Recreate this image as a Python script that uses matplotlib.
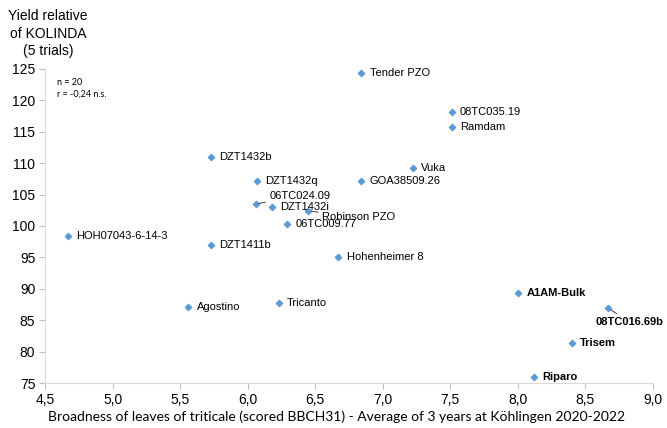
import matplotlib
matplotlib.use("Agg")
import matplotlib.pyplot as plt

# broadness of leaves (x) vs yield relative to KOLINDA (y)
names = ["Tender PZO", "08TC035.19", "Ramdam", "Vuka", "GOA38509.26",
         "DZT1432b", "DZT1432q", "06TC024.09", "DZT1432i", "Robinson PZO",
         "06TC009.77", "HOH07043-6-14-3", "DZT1411b", "Hohenheimer 8",
         "A1AM-Bulk", "08TC016.69b", "Agostino", "Tricanto", "Trisem", "Riparo"]
broadness = [6.84, 7.51, 7.51, 7.22, 6.84,
             5.73, 6.07, 6.06, 6.18, 6.45,
             6.29, 4.67, 5.73, 6.67,
             8.00, 8.67, 5.56, 6.23, 8.40, 8.12]
yield_rel = [124.4, 118.2, 115.8, 109.2, 107.2,
             111.0, 107.2, 103.5, 103.0, 102.4,
             100.3, 98.4, 97.0, 95.1,
             89.4, 86.9, 87.1, 87.7, 81.4, 76.0]
bold_names = ["A1AM-Bulk", "08TC016.69b", "Trisem", "Riparo"]

# labels with leader lines: (dx, dy) offset in points
leader = {"06TC024.09": (10, 6), "Robinson PZO": (10, -4.5), "08TC016.69b": (15.5, -10)}

fig = plt.figure(figsize=(6.67, 4.28), dpi=100)
ax = fig.add_axes([0.0675, 0.105, 0.9115, 0.734])

ax.scatter(broadness, yield_rel, marker="D", s=10, color="#5B9BD5", zorder=3)

for name, x, y in zip(names, broadness, yield_rel):
    weight = "bold" if name in bold_names else "normal"
    if name in leader:
        dx, dy = leader[name]
        ha = "center" if name == "08TC016.69b" else "left"
        ax.annotate(name, (x, y), xytext=(dx, dy), textcoords="offset points",
                    fontsize=8, fontweight=weight, family="Liberation Sans",
                    ha=ha, va="center", color="black",
                    arrowprops=dict(arrowstyle="-", color="#404040", lw=0.7,
                                    shrinkA=1, shrinkB=2))
    else:
        ax.annotate(name, (x, y), xytext=(6, 0), textcoords="offset points",
                    fontsize=8, fontweight=weight, family="Liberation Sans",
                    ha="left", va="center", color="black")

ax.set_xlim(4.5, 9.0)
ax.set_ylim(75, 125)
xticks = [4.5, 5.0, 5.5, 6.0, 6.5, 7.0, 7.5, 8.0, 8.5, 9.0]
yticks = [75, 80, 85, 90, 95, 100, 105, 110, 115, 120, 125]
ax.set_xticks(xticks)
ax.set_xticklabels([f"{t:.1f}".replace(".", ",") for t in xticks],
                   family="Liberation Sans", fontsize=10)
ax.set_yticks(yticks)
ax.set_yticklabels([str(t) for t in yticks], family="Liberation Sans", fontsize=10)
ax.tick_params(direction="out", length=4, color="#BFBFBF", pad=3)

for side in ["top", "right"]:
    ax.spines[side].set_visible(False)
for side in ["left", "bottom"]:
    ax.spines[side].set_color("#D9D9D9")

ax.set_xlabel("Broadness of leaves of triticale (scored BBCH31) - Average of 3 years at Köhlingen 2020-2022",
              family="Lato", fontsize=10)
ax.xaxis.set_label_coords(0.479, -0.088)

fig.text(0.072, 0.978, "Yield relative\nof KOLINDA\n(5 trials)", ha="center", va="top",
         family="Liberation Sans", fontsize=10, linespacing=1.3)

ax.text(0.02, 0.97, "n = 20\nr = -0,24 n.s.", transform=ax.transAxes,
        ha="left", va="top", fontsize=6.5, family="Lato", linespacing=1.4)

fig.savefig("out.png", dpi=100)
